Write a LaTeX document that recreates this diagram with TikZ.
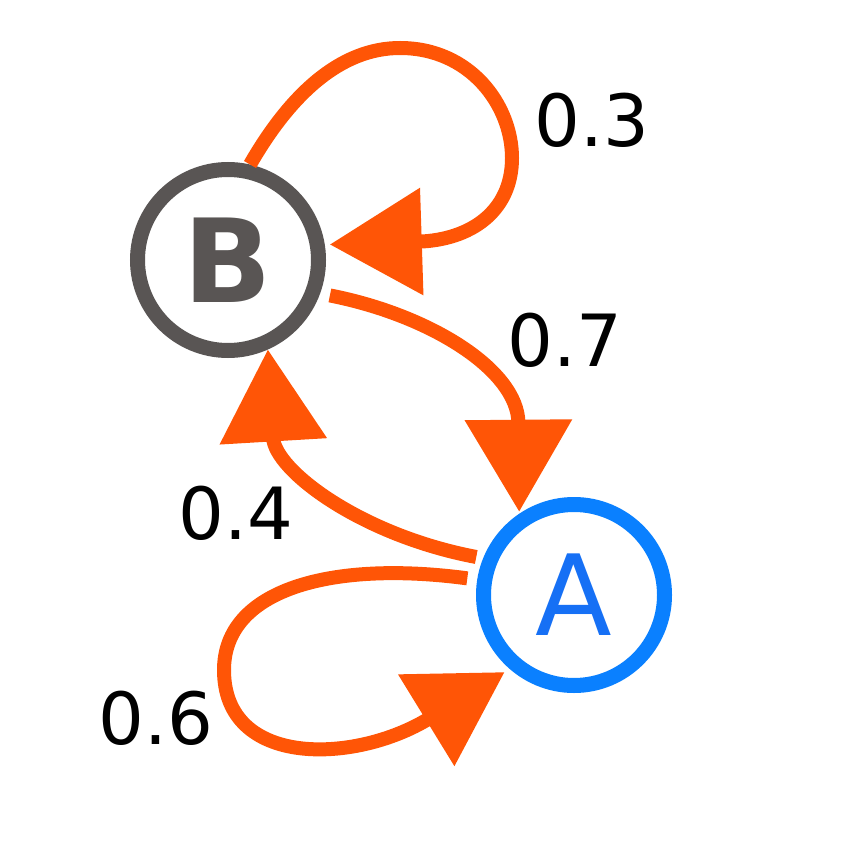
\documentclass[tikz,border=0pt]{standalone}
\usepackage{fontspec}
\setmainfont{DejaVu Sans}
\usetikzlibrary{arrows.meta}
\definecolor{edgeor}{HTML}{FF5506}
\definecolor{bgray}{HTML}{595554}
\definecolor{ablue}{HTML}{0A80FF}
\definecolor{atext}{HTML}{1670F5}
\tikzset{
  state/.style={circle, draw, line width=7.5pt, minimum size=90.5pt, inner sep=0pt, fill=white},
  edge/.style={draw=edgeor, line width=7pt, -{Triangle[length=46pt,width=52pt,fill=edgeor]}},
  prob/.style={font=\fontsize{36}{40}\selectfont, text=black, inner sep=0pt}
}
\begin{document}
\begin{tikzpicture}[x=0.5pt,y=-0.5pt]
\useasboundingbox (0,0) rectangle (845,845);
\node[state, draw=bgray, text=bgray, font=\fontsize{58}{60}\selectfont\bfseries] (B) at (228,260) {B};
\node[state, draw=ablue, text=atext, font=\fontsize{56}{60}\selectfont] (A) at (574,595) {A};
% B self loop
\draw[edge, shorten >=2.5pt] (B.77) .. controls (290,95) and (340,48) .. (400,48)
  .. controls (470,48) and (512,105) .. (512,158)
  .. controls (512,212) and (470,240) .. (B.9);
% B -> A
\draw[edge, shorten <=5pt, shorten >=1pt] (B.-20) .. controls (430,315) and (518,370) .. (A.124);
% A -> B
\draw[edge, shorten <=3.5pt] (A.158) .. controls (360,535) and (275,470) .. (B.-66);
% A self loop
\draw[edge, shorten <=5pt, shorten >=3pt] (A.171) .. controls (330,560) and (224,590) .. (224,670)
  .. controls (224,768) and (355,764) .. (A.-131);
\node[prob] (l03) at (592,120) {0.3};
\node[prob] (l07) at (565,340) {0.7};
\node[prob] (l04) at (236,513) {0.4};
\node[prob] (l06) at (156,718) {0.6};
\end{tikzpicture}
\end{document}
